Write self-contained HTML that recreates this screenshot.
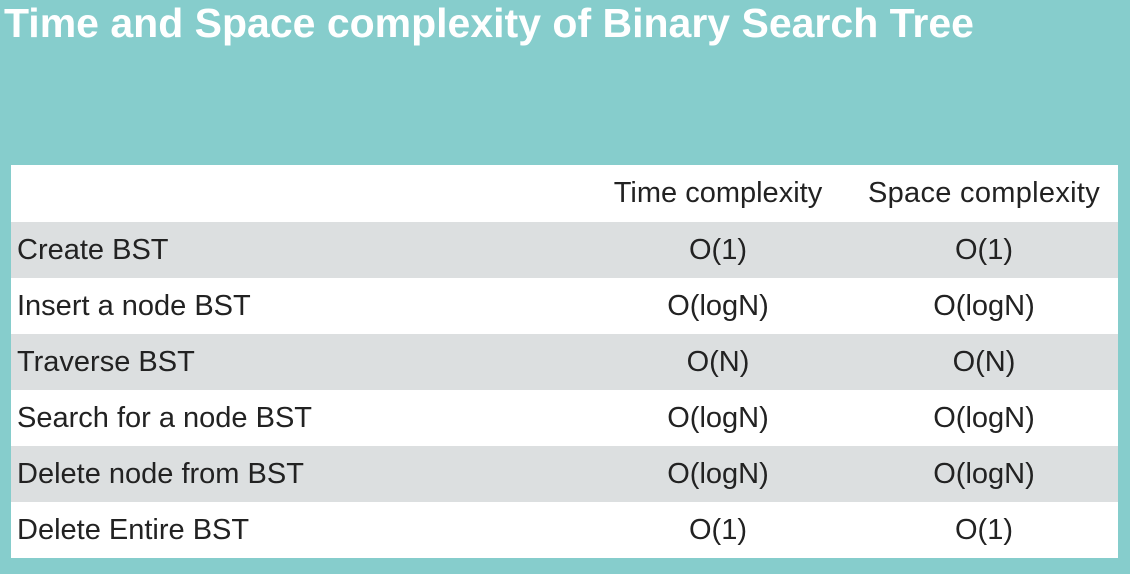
<!DOCTYPE html>
<html><head><meta charset="utf-8"><style>
html,body{margin:0;padding:0}
body{width:1130px;height:574px;background:#86cdcc;position:relative;overflow:hidden;font-family:"Liberation Sans",Arial,sans-serif}
#title{position:absolute;left:4px;top:0px;color:#fff;font-weight:bold;font-size:41px;letter-spacing:0px;white-space:nowrap}
#tbl{position:absolute;left:11px;top:165px;width:1107px;border-collapse:collapse;font-size:29px;color:#222;table-layout:fixed}
#tbl td{padding:0;height:56px;vertical-align:middle;white-space:nowrap}
#tbl tr.h td{height:57px}
#tbl tr.g td{background:#dcdfe0}
#tbl tr.w td{background:#fff}
#tbl td.c1{padding-left:6px;width:569px}
#tbl td.c2{text-align:center;width:264px}
#tbl td.c3{text-align:center;width:268px}
#tbl tr.h td.c3{letter-spacing:0.3px}
</style></head><body>
<div id="title">Time and Space complexity of Binary Search Tree</div>
<table id="tbl">
<tr class="w h"><td class="c1"></td><td class="c2">Time complexity</td><td class="c3">Space complexity</td></tr>
<tr class="g"><td class="c1">Create BST</td><td class="c2">O(1)</td><td class="c3">O(1)</td></tr>
<tr class="w"><td class="c1">Insert a node BST</td><td class="c2">O(logN)</td><td class="c3">O(logN)</td></tr>
<tr class="g"><td class="c1">Traverse BST</td><td class="c2">O(N)</td><td class="c3">O(N)</td></tr>
<tr class="w"><td class="c1">Search for a node BST</td><td class="c2">O(logN)</td><td class="c3">O(logN)</td></tr>
<tr class="g"><td class="c1">Delete node from BST</td><td class="c2">O(logN)</td><td class="c3">O(logN)</td></tr>
<tr class="w"><td class="c1">Delete Entire BST</td><td class="c2">O(1)</td><td class="c3">O(1)</td></tr>
</table>
</body></html>
